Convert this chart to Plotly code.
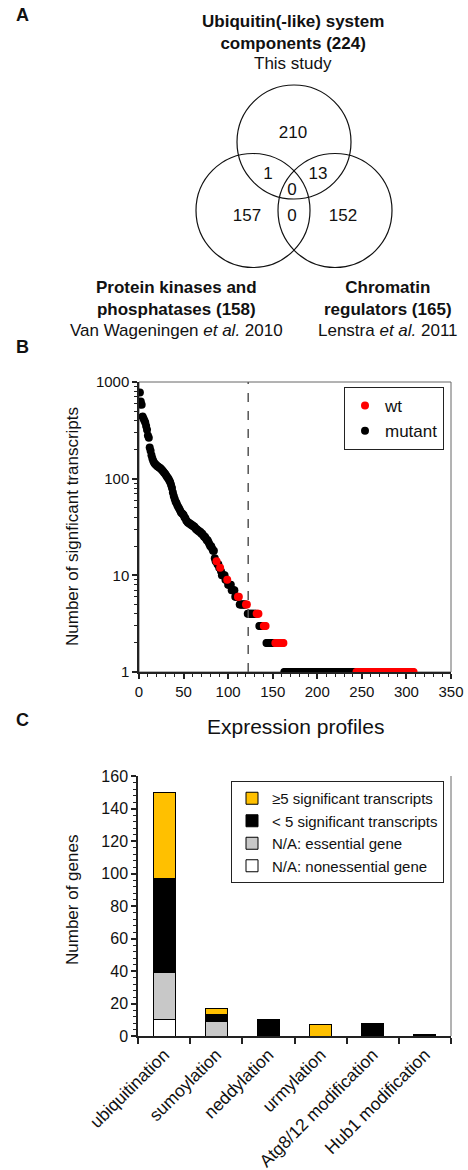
import plotly.graph_objects as go

W, H = 468, 1170
FONT = "Liberation Sans, Arial, Helvetica, sans-serif"
TXT = "#111111"

# ---------------- Panel A data (Venn) ----------------
set_titles = ["Ubiquitin(-like) system<br>components (224)",
              "Protein kinases and<br>phosphatases (158)",
              "Chromatin<br>regulators (165)"]
set_sources = ["This study", "Van Wageningen <i>et al.</i> 2010", "Lenstra <i>et al.</i> 2011"]
venn_regions = ["U only", "U&P", "U&C", "U&P&C", "P only", "P&C", "C only"]
venn_counts = [210, 1, 13, 0, 157, 0, 152]

# ---------------- Panel B data ----------------
top_counts = [780, 630, 580, 440, 420, 400, 380, 350, 320, 280,
              265, 210, 195, 175, 162, 152, 146, 142, 139, 136,
              134, 132, 130, 128, 125, 122, 119, 116, 113, 110,
              106, 103, 100, 96, 92, 86, 80, 72, 66, 62,
              58, 56, 53, 51, 49, 47, 45, 44, 43, 42,
              40, 39, 37, 36, 35, 35, 34, 34, 33, 33,
              32, 32, 31, 30, 30, 29, 29, 28, 28, 27,
              27, 26, 25, 25, 24, 23, 23, 22, 21, 20,
              20, 19, 18, 18]
tail_values = [15, 14, 14, 13, 12, 12, 11, 10, 9, 9, 8, 7, 6, 6, 5, 5, 4, 4, 3, 3, 2, 2, 1, 1]
tail_strains = ["mutant", "mutant", "wt", "mutant", "mutant", "wt", "mutant", "mutant", "mutant", "wt",
                "mutant", "mutant", "mutant", "wt", "mutant", "wt", "mutant", "wt", "mutant", "wt",
                "mutant", "wt", "mutant", "wt"]
tail_sizes = [1, 1, 1, 2, 1, 1, 1, 4, 2, 1, 4, 4, 3, 2, 7, 2, 10, 3, 5, 3, 10, 10, 81, 65]
cutoff_profile = 122.5

# ---------------- Panel C data ----------------
categories = ["ubiquitination", "sumoylation", "neddylation", "urmylation",
              "Atg8/12 modification", "Hub1 modification"]
ge5 = [53, 4, None, 7, None, None]
lt5 = [58, 4, 10, None, 8, 1]
essential = [29, 9, None, None, None, None]
nonessential = [10, None, None, None, None, None]

# ---------------- build ----------------
counts = list(top_counts)
strains = ["mutant"] * len(top_counts)
for v, s, n in zip(tail_values, tail_strains, tail_sizes):
    counts += [v] * n
    strains += [s] * n
ranks = list(range(1, len(counts) + 1))

fig = go.Figure()

def px(xp):
    return xp / W

def py(yp):
    return 1 - yp / H

# Panel B scatter: mutant first, wt on top
for name, color, rank in [("mutant", "#000000", 2), ("wt", "#ff0000", 1)]:
    xs = [r for r, s in zip(ranks, strains) if s == name]
    ys = [c for c, s in zip(counts, strains) if s == name]
    fig.add_trace(go.Scatter(x=xs, y=ys, mode="markers", name=name,
                             marker=dict(color=color, size=8, line=dict(width=0)),
                             xaxis="x", yaxis="y", legend="legend", legendrank=rank))

# Panel C bars
bar_specs = [("N/A: nonessential gene", nonessential, "#ffffff", 4),
             ("N/A: essential gene", essential, "#c8c8c8", 3),
             ("< 5 significant transcripts", lt5, "#000000", 2),
             ("≥5 significant transcripts", ge5, "#ffc000", 1)]
for name, vals, color, rank in bar_specs:
    fig.add_trace(go.Bar(x=categories, y=vals, name=name, width=0.42,
                         marker=dict(color=color, line=dict(color="#000000", width=1)),
                         xaxis="x2", yaxis="y2", legend="legend2", legendrank=rank))

# Panel A: Venn counts as text trace on a pixel-unit axis
venn_pos = [(293, 134), (268, 175), (318, 175), (292, 191), (247, 217), (292, 217), (343, 217)]
fig.add_trace(go.Scatter(x=[p[0] for p in venn_pos], y=[p[1] for p in venn_pos],
                         text=[str(c) for c in venn_counts], mode="text",
                         textfont=dict(size=17, family=FONT, color=TXT),
                         hoverinfo="skip", showlegend=False, xaxis="x3", yaxis="y3"))

shapes = []
for cx, cy, r in [(294, 142, 57), (253, 210.5, 57), (335, 210.5, 57)]:
    shapes.append(dict(type="circle", xref="x3", yref="y3", x0=cx - r, x1=cx + r,
                       y0=cy - r, y1=cy + r, line=dict(color="#111", width=1.2)))

# Panel B box and cutoff
shapes.append(dict(type="rect", xref="x domain", yref="y domain", x0=0, x1=1, y0=0, y1=1,
                   line=dict(color="#666", width=1), layer="below"))
shapes.append(dict(type="line", xref="x", yref="y domain", x0=cutoff_profile, x1=cutoff_profile,
                   y0=0, y1=1, line=dict(color="#555", width=1.5, dash="dash")))
# Panel C right border
shapes.append(dict(type="line", xref="x2 domain", yref="y2 domain", x0=1, x1=1, y0=0, y1=1,
                   line=dict(color="#666", width=1), layer="below"))

annotations = []
def ann(text, xp, yp, size, angle=0):
    annotations.append(dict(text=text, x=px(xp), y=py(yp), xref="paper", yref="paper",
                            showarrow=False, textangle=angle, xanchor="center", yanchor="middle",
                            font=dict(size=size, family=FONT, color=TXT)))

ann("<b>A</b>", 22, 15, 18)
ann("<b>B</b>", 22, 347, 18)
ann("<b>C</b>", 22, 720, 18)

ann("<b>" + set_titles[0] + "</b>", 293, 32, 17)
ann(set_sources[0], 293, 63, 17)
ann("<b>" + set_titles[1] + "</b>", 176, 298, 17)
ann(set_sources[1], 176, 330, 17)
ann("<b>" + set_titles[2] + "</b>", 388, 298, 17)
ann(set_sources[2], 388, 330, 17)

ann("Number of signficant transcripts", 72, 527, 17, angle=-90)
ann("Expression profiles", 295, 726, 21)
ann("Number of genes", 72, 900, 17, angle=-90)

axis_common = dict(showgrid=False, zeroline=False, automargin=False,
                   linecolor="#222", linewidth=1.5, showline=True,
                   ticks="outside", tickcolor="#222", tickwidth=1.5,
                   tickfont=dict(size=15, family=FONT, color=TXT))

fig.update_layout(
    width=W, height=H, autosize=False,
    margin=dict(l=0, r=0, t=0, b=0),
    paper_bgcolor="white", plot_bgcolor="white",
    font=dict(family=FONT, color=TXT),
    barmode="stack",
    xaxis=dict(axis_common, domain=[px(139), px(451)], range=[0, 350],
               tickvals=[0, 50, 100, 150, 200, 250, 300, 350], ticklen=5,
               minor=dict(dtick=10, ticks="outside", ticklen=3, tickcolor="#222", tickwidth=1),
               anchor="y"),
    yaxis=dict(axis_common, domain=[py(672), py(382)], type="log", range=[0, 3],
               tickvals=[1, 10, 100, 1000], ticktext=["1", "10", "100", "1000"], ticklen=5,
               minor=dict(tickmode="array",
                          tickvals=[2, 3, 4, 5, 6, 7, 8, 9, 20, 30, 40, 50, 60, 70, 80, 90,
                                    200, 300, 400, 500, 600, 700, 800, 900],
                          ticks="outside", ticklen=3, tickcolor="#222", tickwidth=1),
               anchor="x"),
    xaxis2=dict(axis_common, domain=[px(138), px(451)], type="category", range=[-0.5, 5.5],
                tickson="boundaries", ticklen=6, tickangle=-45,
                tickfont=dict(size=17.5, family=FONT, color=TXT), anchor="y2"),
    yaxis2=dict(axis_common, domain=[py(1036), py(776)], range=[0, 160], dtick=20, ticklen=5,
                tickfont=dict(size=16, family=FONT, color=TXT),
                minor=dict(dtick=4, ticks="outside", ticklen=3, tickcolor="#222", tickwidth=1),
                anchor="x2"),
    xaxis3=dict(domain=[0, 1], range=[0, W], visible=False, anchor="y3", fixedrange=True),
    yaxis3=dict(domain=[py(350), 1], range=[350, 0], visible=False, anchor="x3", fixedrange=True),
    legend=dict(x=px(344), y=py(387), xanchor="left", yanchor="top",
                bordercolor="#222", borderwidth=1, bgcolor="white",
                font=dict(size=17, family=FONT, color=TXT), tracegroupgap=0,
                itemwidth=30),
    legend2=dict(x=px(231), y=py(781), xanchor="left", yanchor="top",
                 bordercolor="#222", borderwidth=1, bgcolor="white",
                 font=dict(size=15, family=FONT, color=TXT), tracegroupgap=0,
                 itemwidth=30, traceorder="normal"),
    shapes=shapes,
    annotations=annotations,
    showlegend=True,
)

fig.write_html("out.html")
